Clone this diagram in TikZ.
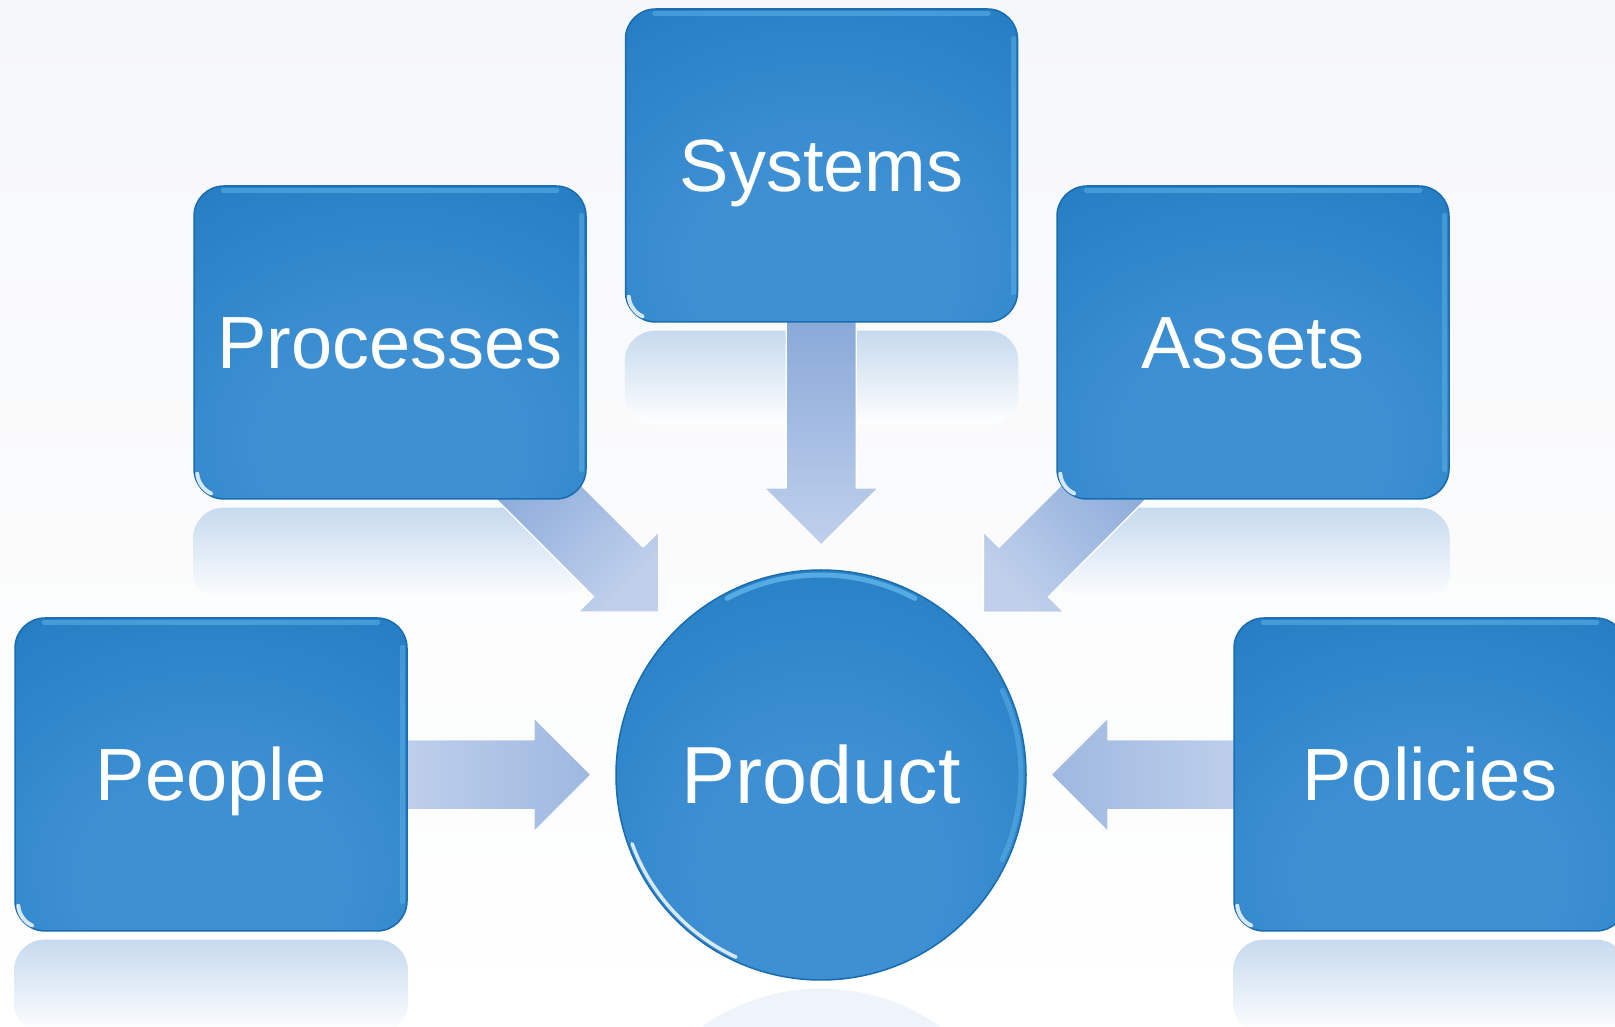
\documentclass[tikz,border=0pt]{standalone}
\usepackage{fontspec}
\setmainfont{Liberation Sans}
\usetikzlibrary{calc}
\definecolor{boxin}{RGB}{62,144,211}
\definecolor{boxmid}{RGB}{38,127,196}
\definecolor{boxout}{RGB}{24,114,184}
\definecolor{rimdark}{RGB}{24,108,175}
\definecolor{rimc}{RGB}{105,190,238}
\definecolor{arrdark}{RGB}{136,168,216}
\definecolor{arrmid}{RGB}{158,184,224}
\definecolor{arrlight}{RGB}{192,208,236}
\definecolor{reflc}{RGB}{198,218,238}
\definecolor{bgtop}{RGB}{246,247,249}
\pgfdeclareradialshading{boxshade}{\pgfpoint{0bp}{-20bp}}{color(0bp)=(boxin);color(16bp)=(boxin);color(42bp)=(boxmid);color(60bp)=(boxout);color(100bp)=(boxout)}
\pgfdeclareradialshading{circshade}{\pgfpoint{0bp}{-14bp}}{color(0bp)=(boxin);color(14bp)=(boxin);color(38bp)=(boxmid);color(54bp)=(boxout);color(100bp)=(boxout)}
\pgfdeclarelayer{bg}
\pgfsetlayers{bg,main}
\tikzset{
  box/.style={rectangle, rounded corners=30pt, minimum width=392pt, minimum height=313pt,
    shade, shading=boxshade, draw=rimdark, line width=1.5pt, text=white,
    font=\fontsize{74}{80}\selectfont, text height=53pt, text depth=0pt, inner sep=0pt},
  prodnode/.style={circle, minimum size=410pt, shade, shading=circshade, draw=rimdark,
    line width=1.5pt, text=white, font=\fontsize{81}{88}\selectfont,
    text height=58pt, text depth=0pt, inner sep=0pt},
  arrowfill/.style={draw=white, line width=1.3pt, line join=round},
  glint/.style={white, line width=4pt, line cap=round, opacity=0.8},
  hilite/.style={rimc, line width=5pt, line cap=round, opacity=0.45},
  refl/.style={top color=reflc, bottom color=white, rounded corners=30pt}
}
\newcommand\blockarr[4]{%
  \begin{scope}[shift={(#1)}, rotate=#2]
    \path[arrowfill, #4] (0,0) -- (57,57) -- (57,35) -- (#3,35) -- (#3,-35)
      -- (57,-35) -- (57,-57) -- cycle;
  \end{scope}}
\newcommand\boxglint[1]{%
  \draw[glint] ($(#1.south west)+(4,26)$) arc[start angle=185, end angle=245, radius=24];
  \draw[hilite] ($(#1.north west)+(30,-5)$) -- ($(#1.north east)+(-30,-5)$);
  \draw[hilite, opacity=0.4] ($(#1.north east)+(-5,-30)$) -- ($(#1.south east)+(-5,30)$);}
\begin{document}
\begin{tikzpicture}[x=1pt,y=1pt]
\useasboundingbox (0,0) rectangle (1615,1026);
\clip (0,0) rectangle (1615,1026);

\node[box] (sys) at (821.5,860.5) {Systems};
\node[box] (proc) at (390,683.5) {Processes};
\node[box] (asset) at (1253,683.5) {Assets};
\node[box] (peop) at (211,251.5) {People};
\node[box] (pol) at (1430,251.5) {Policies};
\node[prodnode] (prod) at (821,251) {Product};

\foreach \b in {sys,proc,asset,peop,pol}{\boxglint{\b}}
\draw[hilite, opacity=0.7] (prod.center) ++(62:200) arc[start angle=62, end angle=118, radius=200];
\draw[hilite, opacity=0.4] (prod.center) ++(-25:200) arc[start angle=-25, end angle=25, radius=200];
\draw[glint, line width=3.5pt] (prod.center) ++(200:201) arc[start angle=200, end angle=245, radius=201];

\coordinate (tS) at ($(prod.center)!230pt!(sys.center)$);
\coordinate (tPr) at ($(prod.center)!230pt!(proc.center)$);
\coordinate (tA) at ($(prod.center)!230pt!(asset.center)$);
\coordinate (tPe) at ($(prod.center)!230pt!(peop.center)$);
\coordinate (tPo) at ($(prod.center)!230pt!(pol.center)$);

\begin{pgfonlayer}{bg}
  \shade[top color=bgtop, bottom color=white] (0,0) rectangle (1615,1026);
  % reflections of the boxes
  \foreach \b in {sys,proc,asset,peop,pol}{
    \shade[refl] ($(\b.south west)+(0,-8)$) rectangle ($(\b.south east)+(0,-102)$);
  }
  % reflection of the circle
  \begin{scope}
    \clip (0,0) rectangle (1615,40);
    \fill[reflc!30!white] ($(prod.south)+(0,-214)$) circle[radius=206];
  \end{scope}
  % block arrows
  \blockarr{tS}{90}{232}{top color=arrdark, bottom color=arrlight}
  \blockarr{tPr}{135}{212}{top color=arrdark, bottom color=arrlight, shading angle=45}
  \blockarr{tA}{45}{212}{top color=arrdark, bottom color=arrlight, shading angle=-45}
  \blockarr{tPe}{180}{196}{left color=arrlight, right color=arrmid}
  \blockarr{tPo}{0}{196}{left color=arrmid, right color=arrlight}
\end{pgfonlayer}
\end{tikzpicture}
\end{document}
